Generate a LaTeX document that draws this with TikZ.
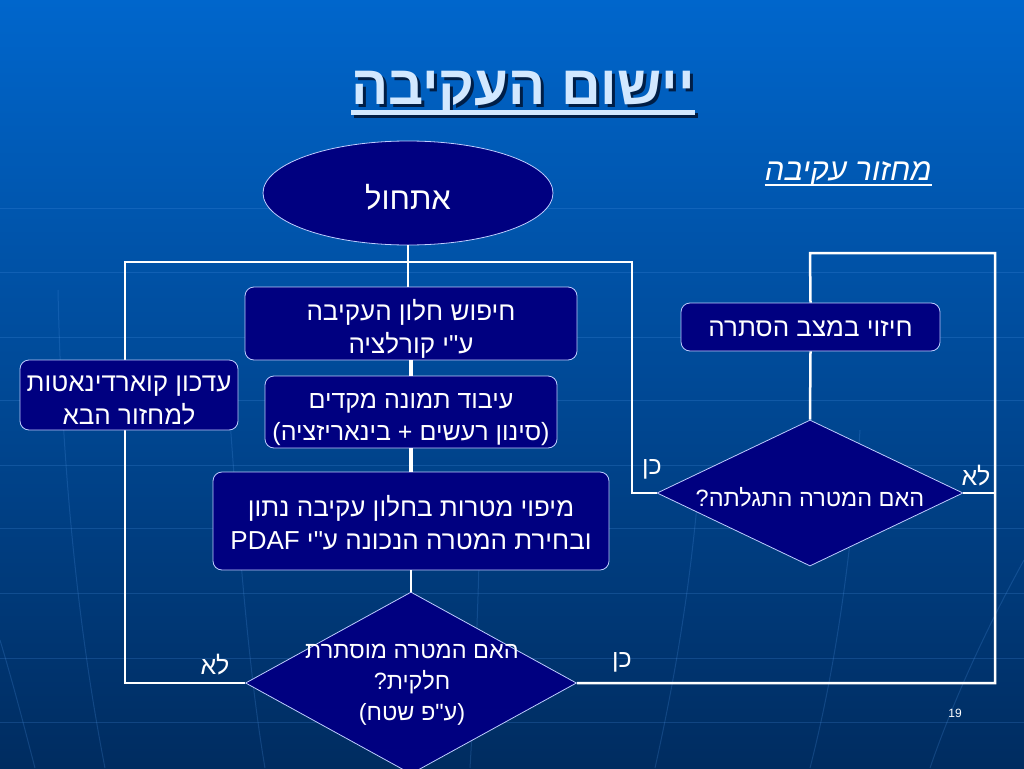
\documentclass[tikz,border=0pt]{standalone}
\usepackage{fontspec}
\setmainfont{Liberation Sans}
\newfontfamily\heb[Script=Hebrew]{Liberation Sans}
\TeXXeTstate=1
\usetikzlibrary{shapes.geometric}
\definecolor{bgtop}{RGB}{0,102,204}
\definecolor{bgbot}{RGB}{0,44,96}
\definecolor{gridcol}{RGB}{80,150,230}
\definecolor{navyfill}{RGB}{0,0,128}
\definecolor{edgecol}{RGB}{190,205,255}
\definecolor{titlecol}{RGB}{210,232,255}
\definecolor{shadowcol}{RGB}{0,30,70}
\newcommand\hebl[1]{\beginR #1\endR}
\tikzset{
  boxnode/.style={draw=edgecol, line width=0.8pt, fill=navyfill, rounded corners=9pt, inner sep=0pt},
  boxtext/.style={text=white, align=center, inner sep=0pt, font=\heb\fontsize{26}{33}\selectfont},
  decnode/.style={draw=edgecol, line width=0.8pt, fill=navyfill, diamond, inner sep=0pt},
  dectext/.style={text=white, align=center, inner sep=0pt, font=\heb\fontsize{23.5}{31}\selectfont},
  conn/.style={draw=white, line width=2.5pt},
  thickconn/.style={draw=white, line width=4.5pt},
  gridline/.style={draw=gridcol, line width=1pt, opacity=0.22},
  lbl/.style={text=white, inner sep=0pt, font=\heb\fontsize{25}{28}\selectfont}
}
\begin{document}
\begin{tikzpicture}[x=1pt,y=-1pt]
\useasboundingbox (0,0) rectangle (1024,768);
\shade[top color=bgtop, bottom color=bgbot] (0,0) rectangle (1024,768);

% faint background globe lines
\foreach \yy in {208,272,337,400,465,528,593,658,722} {
  \draw[gridline] (0,\yy) -- (1024,\yy);
}
\draw[gridline] (58,290) .. controls (62,480) and (80,640) .. (105,768);
\draw[gridline] (0,640) .. controls (15,690) and (25,730) .. (35,768);
\draw[gridline] (230,420) .. controls (240,560) and (250,680) .. (265,768);
\draw[gridline] (480,520) .. controls (478,620) and (474,700) .. (470,768);
\draw[gridline] (700,470) .. controls (690,600) and (670,700) .. (655,768);
\draw[gridline] (860,430) .. controls (850,580) and (830,690) .. (810,768);
\draw[gridline] (1024,560) .. controls (980,640) and (950,710) .. (930,768);

% title
\node[anchor=base, text=shadowcol, font=\heb\bfseries\fontsize{55}{60}\selectfont, inner sep=0pt] (titleshadow) at (526,107) {\hebl{יישום העקיבה}};
\node[anchor=base, text=titlecol, font=\heb\bfseries\fontsize{55}{60}\selectfont, inner sep=0pt] (title) at (523,104) {\hebl{יישום העקיבה}};
\fill[shadowcol] ([xshift=3pt,yshift=-9pt]title.base west) rectangle ([xshift=3pt,yshift=-14pt]title.base east);
\fill[titlecol] ([yshift=-6pt]title.base west) rectangle ([yshift=-11pt]title.base east);

% subtitle
\node[anchor=base east, text=white, font=\heb\itshape\fontsize{31}{34}\selectfont, inner sep=0pt] (sub) at (932,180) {\hebl{מחזור עקיבה}};
\draw[white, line width=1.2pt] ([yshift=-5pt]sub.base west) -- ([yshift=-5pt]sub.base east);

% coordinates
\coordinate (cL1) at (125,683);
\coordinate (cL2) at (125,262);
\coordinate (cR2) at (632,262);
\coordinate (cR1) at (632,493);
\coordinate (cE1) at (995,683);
\coordinate (cE2) at (995,253);
\coordinate (cE3) at (810,253);
\coordinate (cE4) at (995,493);

% shapes
\node[draw=edgecol, line width=0.8pt, fill=navyfill, ellipse, minimum width=290, minimum height=104, inner sep=0pt] (start) at (408,193) {};
\node[boxnode, minimum width=332, minimum height=73] (b1) at (411,323.5) {};
\node[boxnode, minimum width=292, minimum height=72] (b2) at (411,412) {};
\node[boxnode, minimum width=396, minimum height=98] (b3) at (411,521) {};
\node[decnode, minimum width=331, minimum height=182] (d1) at (411,683) {};
\node[boxnode, minimum width=259, minimum height=48] (b4) at (810.5,327) {};
\node[decnode, minimum width=306, minimum height=146] (d2) at (810,493) {};

% connectors
\draw[conn] (start.south) -- (start.south |- b1.north);
\draw[thickconn] (b1.south) -- (b2.north);
\draw[thickconn] (b2.south) -- (b3.north);
\draw[conn] (b3.south) -- (d1.north);
\draw[conn] (d1.west) -- (cL1) -- (cL2) -- (cR2) -- (cR1) -- (d2.west);
\draw[conn] (d1.east) -- (cE1) -- (cE2) -- (cE3) -- (b4.north);
\draw[conn] (d2.east) -- (cE4);
\draw[conn] (b4.south) -- (d2.north);

% box drawn over the left connector
\node[boxnode, minimum width=218, minimum height=70] (b5) at (129,395) {};

% texts
\node[text=white, inner sep=0pt, font=\heb\fontsize{31}{34}\selectfont] (startt) at ([yshift=-4pt]start.center) {\hebl{אתחול}};
\node[boxtext] (b1t) at ([yshift=-5pt]b1.center) {\hebl{חיפוש חלון העקיבה}\\\hebl{ע"י קורלציה}};
\node[boxtext, font=\heb\fontsize{25}{32}\selectfont] (b2t) at ([yshift=-7pt]b2.center) {\hebl{עיבוד תמונה מקדים}\\\hebl{(\kern0pt סינון רעשים + בינאריזציה\kern0pt)}};
\node[boxtext] (b3t) at ([yshift=-2pt]b3.center) {\hebl{מיפוי מטרות בחלון עקיבה נתון}\\\hebl{ובחירת המטרה הנכונה ע"י \beginL PDAF\endL}};
\node[boxtext] (b4t) at ([yshift=-2pt]b4.center) {\hebl{חיזוי במצב הסתרה}};
\node[boxtext] (b5t) at ([yshift=-5pt]b5.center) {\hebl{עדכון קוארדינאטות}\\\hebl{למחזור הבא}};
\node[dectext] (d1t) at (412,685) {\hebl{האם המטרה מוסתרת}\\\hebl{חלקית\kern0pt?}\\\hebl{(\kern0pt ע"פ שטח\kern0pt)}};
\node[dectext] (d2t) at (810,497) {\hebl{האם המטרה התגלתה\kern0pt?}};

% labels
\node[lbl] (l1) at (215,665) {\hebl{לא}};
\node[lbl] (l2) at (622,662) {\hebl{כן}};
\node[lbl] (l3) at (652,469) {\hebl{כן}};
\node[lbl] (l4) at (976,476) {\hebl{לא}};

% page number
\node[text=white, font=\fontsize{12}{14}\selectfont, inner sep=0pt] (pg) at (955,713) {19};
\end{tikzpicture}
\end{document}
